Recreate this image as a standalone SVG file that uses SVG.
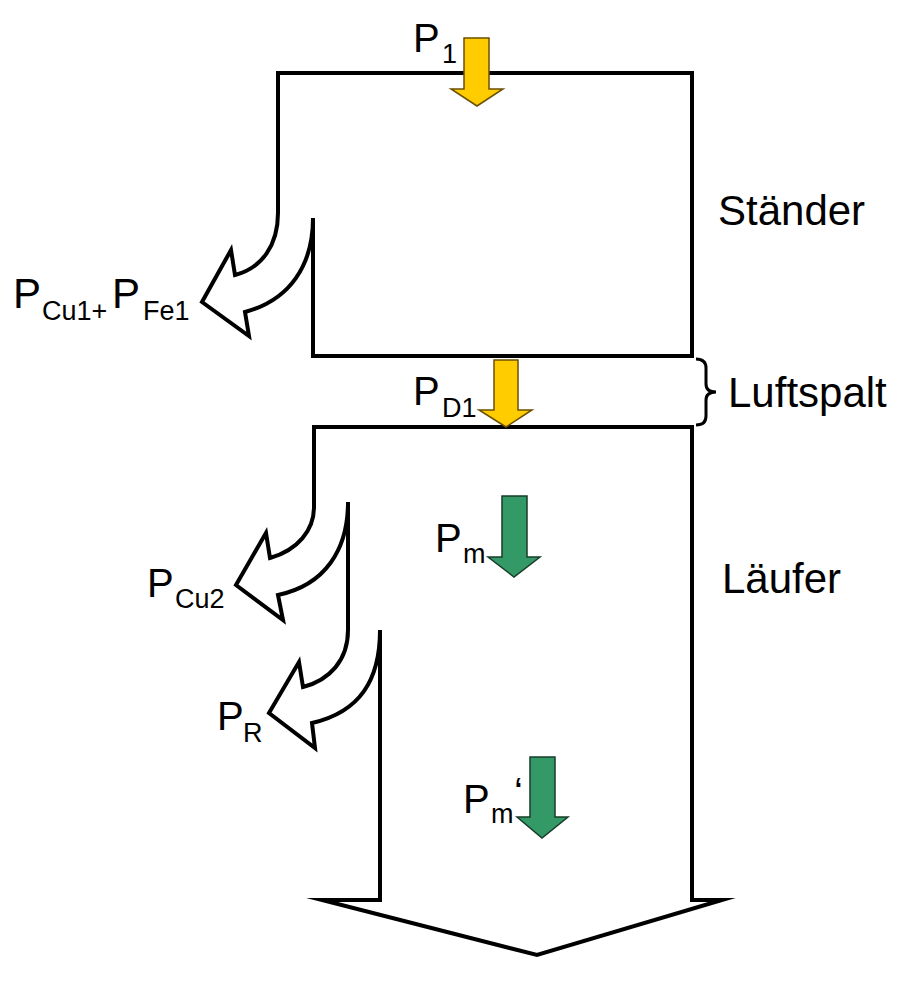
<svg xmlns="http://www.w3.org/2000/svg" width="907" height="992" viewBox="0 0 907 992">
<style>
.outline{fill:#fff;stroke:#000;stroke-width:4;stroke-linejoin:miter;stroke-miterlimit:10}
.yel{fill:#FFCC00;stroke:#6b5000;stroke-width:1.5}
.grn{fill:#339966;stroke:#173d29;stroke-width:1.5}
text{font-family:"Liberation Sans",Arial,sans-serif;fill:#000}
.big{font-size:40px}
.sub{font-size:27px}
.lab{font-size:42px}
</style>
<rect width="907" height="992" fill="#fff"/>
<g id="connectors">
<path class="outline" d="M278,213 L278,73 L692,73 L692,356 L313,356 L313,218 C313,265 290,300 245,312 L249,336 L202,302 L231,250 L235,275 C262,268 278,245 278,213 Z"/>
<path class="outline" d="M314,427 L692,427 L692,900 L722,900 L537,955 L322,900 L380,900 L380,630 C380,680 360,712 312,723 L315,748 L269,713 L299,662 L303,687 C330,680 348,660 348,630 L348,502 C348,550 325,585 278,595 L283,620 L236,585 L266,533 L270,558 C298,550 314,530 314,507 Z"/>
<path d="M696,359 Q706,359 706,368 L706,384 Q706,392 716,392 Q706,392 706,400 L706,416 Q706,425 696,425" fill="none" stroke="#000" stroke-width="3"/>
</g>
<g id="p1">
<path class="yel" d="M464,38 L489,38 L489,89 L503,89 L477,106 L451,89 L464,89 Z"/>
<text class="big" x="413" y="52">P</text><text class="sub" x="442" y="63">1</text>
</g>
<g id="pd1">
<path class="yel" d="M494,360 L518,360 L518,410 L532,410 L506,427 L479,410 L494,410 Z"/>
<text class="big" x="413" y="405">P</text><text class="sub" x="442" y="417">D1</text>
</g>
<g id="pm">
<path class="grn" d="M502,496 L527,496 L527,557 L540,557 L514,577 L488,557 L502,557 Z"/>
<text class="big" x="435" y="552">P</text><text class="sub" x="463" y="563">m</text>
</g>
<g id="pm2">
<path class="grn" d="M530,757 L555,757 L555,817 L568,817 L542,838 L517,817 L530,817 Z"/>
<text class="big" x="463" y="813">P</text><text class="sub" x="491" y="823">m</text><text class="big" x="514" y="806">‘</text>
</g>
<g id="pcu1fe1">
<text class="lab" x="13" y="308">P</text><text class="sub" x="42" y="320">Cu1+</text>
<text class="lab" x="112" y="308">P</text><text class="sub" x="143" y="320">Fe1</text>
</g>
<g id="pcu2">
<text class="big" x="147" y="597">P</text><text class="sub" x="175" y="608">Cu2</text>
</g>
<g id="pr">
<text class="big" x="217" y="730">P</text><text class="sub" x="243" y="742">R</text>
</g>
<g id="staender"><text class="lab" x="718" y="225">Ständer</text></g>
<g id="luftspalt"><text class="lab" x="728" y="407">Luftspalt</text></g>
<g id="laeufer"><text class="lab" x="722" y="593">Läufer</text></g>
</svg>
